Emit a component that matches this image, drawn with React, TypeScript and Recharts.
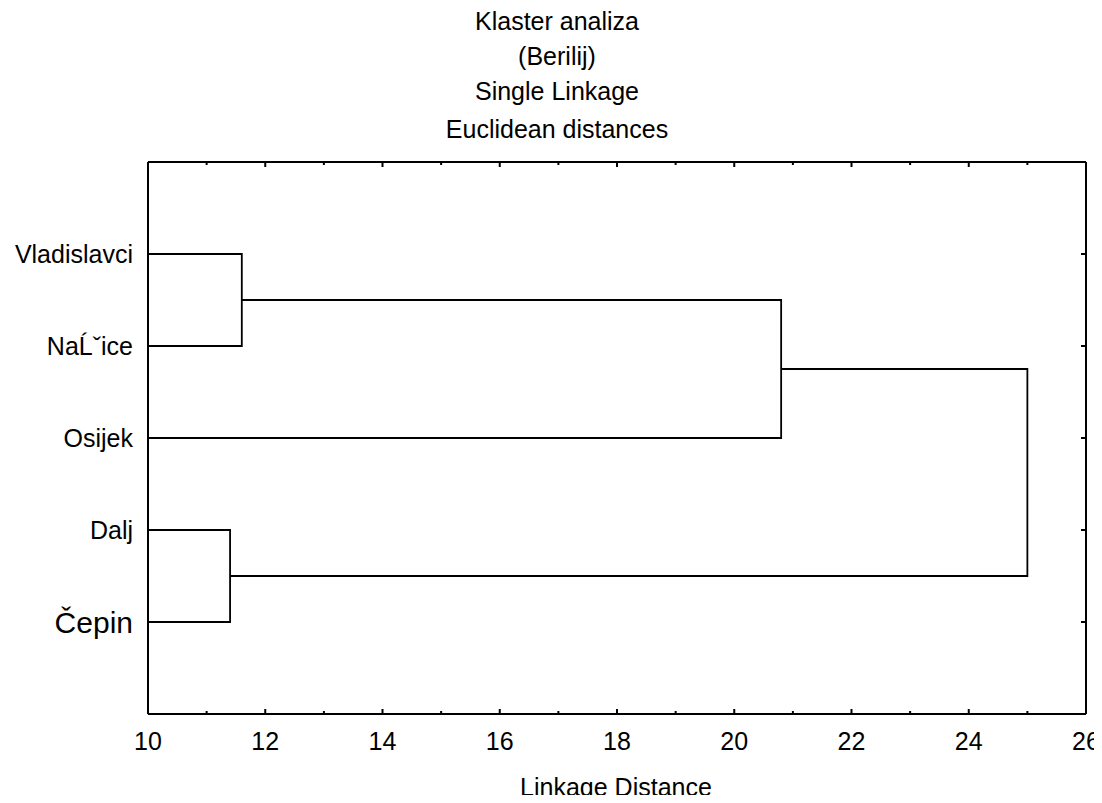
import React from 'react';
import { LineChart, Line, XAxis, YAxis } from 'recharts';

// ---- data ----
const leafNames = ['Vladislavci', 'NaĹˇice', 'Osijek', 'Dalj', 'Čepin'];
const leafPositions = [1, 2, 3, 4, 5];
// merges: each joins two nodes (leaf "Ln" or cluster "Cn") at a linkage distance
const mergeLeft = ['L0', 'C0', 'L3', 'C1'];
const mergeRight = ['L1', 'L2', 'L4', 'C2'];
const mergeHeights = [11.6, 20.8, 11.4, 25.0];
const xTicks = [10, 11, 12, 13, 14, 15, 16, 17, 18, 19, 20, 21, 22, 23, 24, 25, 26];
const titleLines = ['Klaster analiza', '(Berilij)', 'Single Linkage', 'Euclidean distances'];
const xAxisTitle = 'Linkage Distance';

const X_MIN = 10;
const FONT = '"Liberation Sans", Arial, sans-serif';

type Node = { x: number; y: number };

function buildLinks() {
  const nodes: Record<string, Node> = {};
  leafPositions.forEach((p, i) => {
    nodes['L' + i] = { x: X_MIN, y: p };
  });
  const links: { x: number; y: number }[][] = [];
  mergeHeights.forEach((h, i) => {
    const a = nodes[mergeLeft[i]];
    const b = nodes[mergeRight[i]];
    links.push([
      { x: a.x, y: a.y },
      { x: h, y: a.y },
      { x: h, y: b.y },
      { x: b.x, y: b.y },
    ]);
    nodes['C' + i] = { x: h, y: (a.y + b.y) / 2 };
  });
  return links;
}

const links = buildLinks();

const LeftTick = (props: any) => {
  const { x, y, payload } = props;
  const idx = leafPositions.indexOf(payload.value);
  const name = leafNames[idx] ?? '';
  const big = name === 'Čepin';
  return (
    <text
      x={x - 15}
      y={y}
      textAnchor="end"
      dominantBaseline="central"
      fontFamily={FONT}
      fontSize={big ? 30 : 25}
      fill="#000"
    >
      {name}
    </text>
  );
};

const RightTick = (props: any) => {
  const { x, y } = props;
  return <line x1={x} x2={x - 5} y1={y} y2={y} stroke="#000" strokeWidth={2} />;
};

const TopTick = (props: any) => {
  const { x, y, payload } = props;
  const major = payload.value % 2 === 0;
  return <line x1={x} x2={x} y1={y} y2={y + (major ? 5 : 3)} stroke="#000" strokeWidth={2} />;
};

const BottomTick = (props: any) => {
  const { x, y, payload } = props;
  const major = payload.value % 2 === 0;
  return (
    <g>
      <line x1={x} x2={x} y1={y} y2={y - (major ? 5 : 3)} stroke="#000" strokeWidth={2} />
      {major && (
        <text
          x={x}
          y={y + 27}
          textAnchor="middle"
          dominantBaseline="central"
          fontFamily={FONT}
          fontSize={25}
          fill="#000"
        >
          {payload.value}
        </text>
      )}
    </g>
  );
};

export default function App() {
  const W = 1094;
  const H = 787;
  const axisLine = { stroke: '#000', strokeWidth: 2 };
  const titleCenters = [21, 56, 91, 129];
  return (
    <div style={{ position: 'relative', width: W, height: H, fontFamily: FONT }}>
      {titleLines.map((t, i) => (
        <div
          key={i}
          style={{
            position: 'absolute',
            left: 0,
            width: 1098,
            top: titleCenters[i] - 8 - 13,
            textAlign: 'center',
            fontSize: 25,
            lineHeight: '26px',
            color: '#000',
            whiteSpace: 'nowrap',
          }}
        >
          {t}
        </div>
      ))}
      <div
        style={{
          position: 'absolute',
          left: 616 - 8 - 200,
          width: 400,
          top: 787 - 8 - 13,
          textAlign: 'center',
          fontSize: 25,
          lineHeight: '26px',
          color: '#000',
          whiteSpace: 'nowrap',
        }}
      >
        {xAxisTitle}
      </div>
      <LineChart width={W} height={H} margin={{ top: 134, left: 120, right: 8, bottom: 61 }}>
        <XAxis
          xAxisId="bottom"
          type="number"
          dataKey="x"
          domain={[10, 26]}
          ticks={xTicks}
          interval={0}
          allowDataOverflow
          height={20}
          tickSize={0}
          tickMargin={0}
          tickLine={false}
          axisLine={axisLine}
          tick={<BottomTick />}
        />
        <XAxis
          xAxisId="top"
          orientation="top"
          type="number"
          dataKey="x"
          domain={[10, 26]}
          ticks={xTicks}
          interval={0}
          allowDataOverflow
          height={20}
          tickSize={0}
          tickMargin={0}
          tickLine={false}
          axisLine={axisLine}
          tick={<TopTick />}
        />
        <YAxis
          yAxisId="left"
          type="number"
          dataKey="y"
          domain={[0, 6]}
          reversed
          ticks={leafPositions}
          interval={0}
          allowDataOverflow
          width={20}
          tickSize={0}
          tickMargin={0}
          tickLine={false}
          axisLine={axisLine}
          tick={<LeftTick />}
        />
        <YAxis
          yAxisId="right"
          orientation="right"
          type="number"
          dataKey="y"
          domain={[0, 6]}
          reversed
          ticks={leafPositions}
          interval={0}
          allowDataOverflow
          width={8}
          tickSize={0}
          tickMargin={0}
          tickLine={false}
          axisLine={axisLine}
          tick={<RightTick />}
        />
        {links.map((d, i) => (
          <Line
            key={i}
            data={d}
            xAxisId="bottom"
            yAxisId="left"
            dataKey="y"
            type="linear"
            stroke="#000"
            strokeWidth={1.8}
            dot={false}
            activeDot={false}
            isAnimationActive={false}
          />
        ))}
      </LineChart>
    </div>
  );
}
